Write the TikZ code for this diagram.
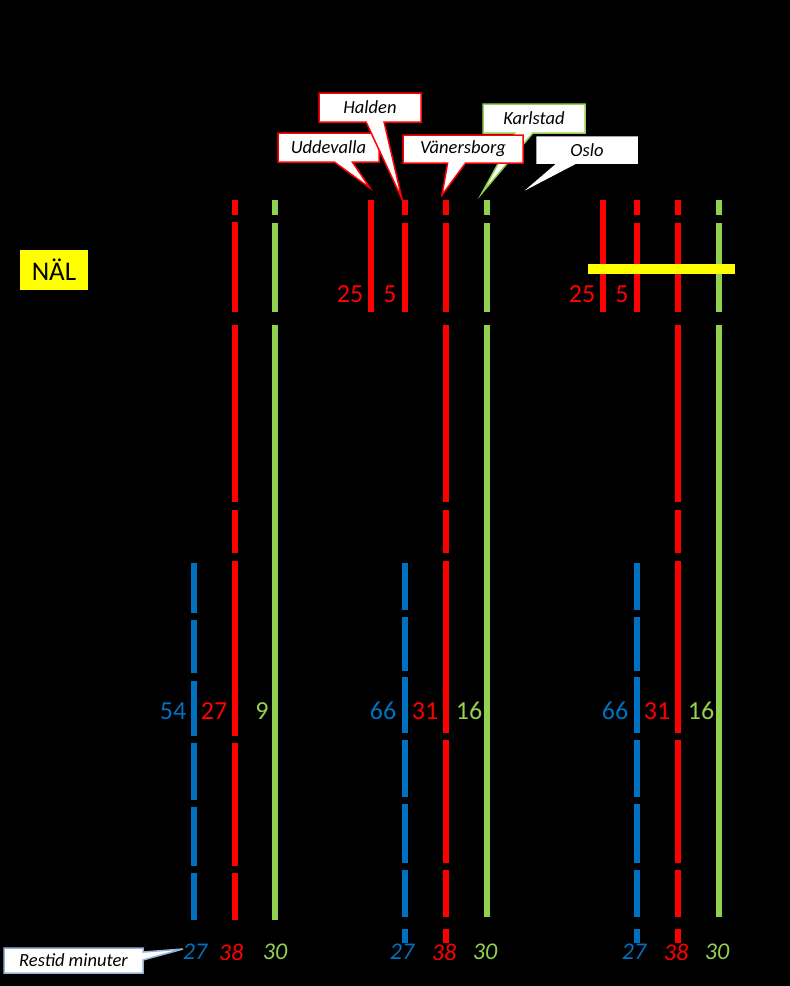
\documentclass[tikz,border=0pt]{standalone}
\usepackage{fontspec}
\setmainfont{Carlito}
\usetikzlibrary{shapes.callouts}
\definecolor{tred}{RGB}{255,0,0}
\definecolor{tblue}{RGB}{0,112,192}
\definecolor{tgreen}{RGB}{146,208,80}
\definecolor{tyellow}{RGB}{255,255,0}
\definecolor{tframe}{RGB}{149,179,215}

\begin{document}
\begin{tikzpicture}[x=1pt,y=-1pt,
  track/.style={draw=#1,line width=6pt},
  num/.style={text=#1,inner sep=0pt,font=\fontsize{26}{26}\selectfont},
  mins/.style={text=#1,inner sep=0pt,font=\itshape\fontsize{24}{24}\selectfont},
  callbox/.style={rectangle callout,fill=white,draw=#1,line width=1.5pt,inner sep=0pt,
    minimum height=28pt,callout pointer width=18pt,font=\itshape\fontsize{18.5}{18.5}\selectfont}]
  \fill[black] (0,0) rectangle (790,986);
  \useasboundingbox (0,0) rectangle (790,986);

  % left group
  \foreach \x/\a/\b/\c in {
     235/200/215/tred, 235/222/312/tred, 235/325/502/tred, 235/510/553/tred,
     235/561/736/tred, 235/743/866/tred, 235/873/920/tred,
     275/200/215/tgreen, 275/223/312/tgreen, 275/325/920/tgreen,
     194/563/613/tblue, 194/620/673/tblue, 194/681/736/tblue,
     194/743/800/tblue, 194/807/866/tblue, 194/873/920/tblue}
  { \draw[track=\c] (\x,\a) -- (\x,\b); }

  % middle and right group
  \foreach \g in {0,232}
  { \foreach \x/\a/\b/\c in {
       371/200/312/tred, 405/200/215/tred, 405/223/312/tred,
       446/200/215/tred, 446/223/312/tred, 446/325/502/tred, 446/510/553/tred,
       446/561/733/tred, 446/740/863/tred, 446/870/917/tred, 446/929/943/tred,
       487/200/215/tgreen, 487/223/312/tgreen, 487/325/917/tgreen,
       405/563/610/tblue, 405/617/671/tblue, 405/677/733/tblue, 405/740/797/tblue,
       405/804/863/tblue, 405/870/917/tblue, 405/929/943/tblue}
    { \draw[track=\c] (\x+\g,\a) -- (\x+\g,\b); }
    \node[num=tred] (min25-\g) at (350+\g,294.5) {25};
    \node[num=tred] (min5-\g) at (390+\g,294.5) {5};
    \node[num=tblue] (bus-\g) at (383+\g,711) {66};
    \node[num=tred] (reg-\g) at (425+\g,711) {31};
    \node[num=tgreen] (fjt-\g) at (469+\g,711) {16};
    \node[mins=tblue] (tbus-\g) at (402+\g,952) {27};
    \node[mins=tred] (treg-\g) at (444+\g,952) {38};
    \node[mins=tgreen] (tfjt-\g) at (485+\g,952) {30};
  }

  \node[num=tblue] (bus) at (173,711) {54};
  \node[num=tred] (reg) at (214,711) {27};
  \node[num=tgreen] (fjt) at (262,711) {9};
  \node[mins=tblue] (tbus) at (195,952) {27};
  \node[mins=tred] (treg) at (231,952) {38};
  \node[mins=tgreen] (tfjt) at (275,952) {30};

  \node[fill=tyellow,minimum width=68pt,minimum height=40pt,inner sep=0pt,
    font=\fontsize{27}{27}\selectfont] (nal) at (54,270) {NÄL};
  \node[fill=tyellow,minimum width=147pt,minimum height=10pt,inner sep=0pt] (nalbar) at (661.5,269) {};

  % callouts
  \coordinate (uddtip) at (370,188);
  \coordinate (haltip) at (402,199);
  \coordinate (vbgtip) at (442,195);
  \coordinate (kstip) at (482,193);
  \coordinate (oslotip) at (530,187);
  \coordinate (restip) at (183,949);
  \node[callbox=tgreen,minimum width=102pt,minimum height=29pt,callout absolute pointer={(kstip)}] (ks) at (534,118.5) {Karlstad};
  \node[callbox=tred,minimum width=101pt,minimum height=29pt,callout absolute pointer={(uddtip)}] (udd) at (328.5,147.5) {Uddevalla};
  \node[callbox=tred,minimum width=102pt,minimum height=29pt,callout absolute pointer={(haltip)}] (hal) at (370,107.5) {Halden};
  \node[callbox=tred,minimum width=120pt,callout absolute pointer={(vbgtip)}] (vbg) at (463,149) {Vänersborg};
  \node[callbox=white,minimum width=100pt,minimum height=26pt,callout absolute pointer={(oslotip)}] (oslo) at (587,150) {Oslo};
  \node[callbox=tframe,minimum width=139pt,minimum height=25pt,callout pointer width=8pt,
    callout absolute pointer={(restip)}] (restid) at (73.5,960.5) {Restid minuter};
\end{tikzpicture}
\end{document}
